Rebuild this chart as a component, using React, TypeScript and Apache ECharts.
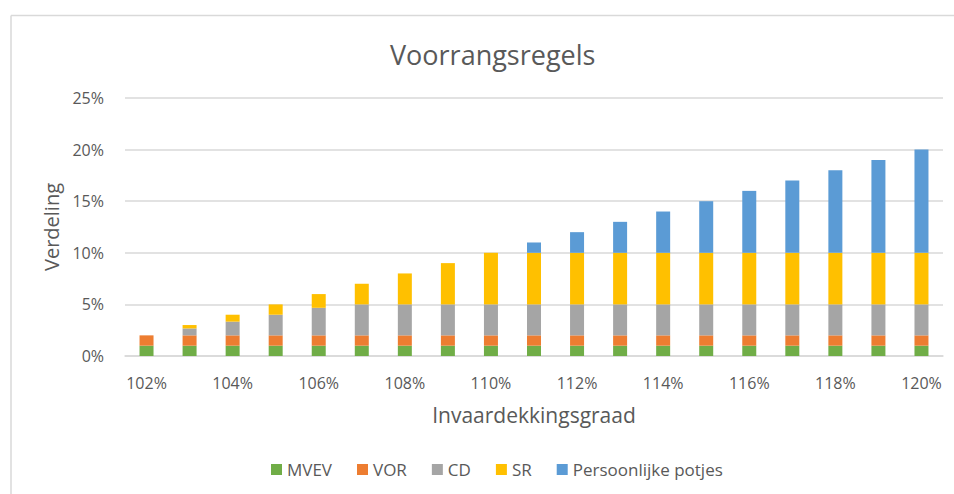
import React, { useEffect, useRef } from "react";
import * as echarts from "echarts";

const categories = ["102%", "103%", "104%", "105%", "106%", "107%", "108%", "109%", "110%", "111%", "112%", "113%", "114%", "115%", "116%", "117%", "118%", "119%", "120%"];
const mvev = [1, 1, 1, 1, 1, 1, 1, 1, 1, 1, 1, 1, 1, 1, 1, 1, 1, 1, 1];
const vor = [1, 1, 1, 1, 1, 1, 1, 1, 1, 1, 1, 1, 1, 1, 1, 1, 1, 1, 1];
const cd = [0, 0.67, 1.33, 2, 2.67, 3, 3, 3, 3, 3, 3, 3, 3, 3, 3, 3, 3, 3, 3];
const sr = [0, 0.33, 0.67, 1, 1.33, 2, 3, 4, 5, 5, 5, 5, 5, 5, 5, 5, 5, 5, 5];
const potjes = [0, 0, 0, 0, 0, 0, 0, 0, 0, 1, 2, 3, 4, 5, 6, 7, 8, 9, 10];
const yTicks = [0, 5, 10, 15, 20, 25];

const seriesDefs = [
  { name: "MVEV", data: mvev, color: "#70ad47" },
  { name: "VOR", data: vor, color: "#ed7d31" },
  { name: "CD", data: cd, color: "#a5a5a5" },
  { name: "SR", data: sr, color: "#ffc000" },
  { name: "Persoonlijke potjes", data: potjes, color: "#5b9bd5" },
];

const FONT = "'Open Sans', 'Noto Sans', sans-serif";
const TXT = "#595959";

export default function App() {
  const ref = useRef<HTMLDivElement>(null);
  useEffect(() => {
    document.body.style.margin = "0";
    const chart = echarts.init(ref.current!, null, { renderer: "svg" });
    chart.setOption({
      animation: false,
      backgroundColor: "#ffffff",
      textStyle: { fontFamily: FONT, color: TXT },
      title: {
        text: "Voorrangsregels",
        left: 385,
        top: 36,
        textStyle: { fontFamily: FONT, fontSize: 27, fontWeight: "normal", color: TXT },
      },
      graphic: [
        { type: "line", shape: { x1: 11, y1: 15.5, x2: 954, y2: 15.5 }, style: { stroke: "#d9d9d9", lineWidth: 1.5 } },
        { type: "line", shape: { x1: 11, y1: 15.5, x2: 11, y2: 494 }, style: { stroke: "#d9d9d9", lineWidth: 1.5 } },
      ],
      legend: {
        bottom: 11,
        left: 266,
        itemWidth: 11,
        itemHeight: 11,
        itemGap: 25,
        icon: "rect",
        textStyle: { fontFamily: FONT, fontSize: 17, color: TXT },
        data: seriesDefs.map((s) => s.name),
      },
      grid: { left: 125, right: 11, top: 98, bottom: 138, containLabel: false },
      xAxis: {
        type: "category",
        data: categories,
        name: "Invaardekkingsgraad",
        nameLocation: "middle",
        nameGap: 48,
        nameTextStyle: { fontFamily: FONT, fontSize: 21, color: TXT },
        axisLine: { lineStyle: { color: "#d9d9d9", width: 1.5 } },
        axisTick: { show: false },
        axisLabel: { interval: 1, margin: 19, fontFamily: FONT, fontSize: 16, color: TXT },
      },
      yAxis: {
        type: "value",
        min: yTicks[0],
        max: yTicks[yTicks.length - 1],
        interval: 5,
        name: "Verdeling",
        nameLocation: "middle",
        nameGap: 62,
        nameTextStyle: { fontFamily: FONT, fontSize: 20, color: TXT },
        axisLine: { show: false },
        axisTick: { show: false },
        splitLine: { lineStyle: { color: "#d9d9d9", width: 1.5 } },
        axisLabel: { margin: 21, fontFamily: FONT, fontSize: 16, color: TXT, formatter: (v: number) => v + "%" },
      },
      series: seriesDefs.map((s) => ({
        name: s.name,
        type: "bar",
        stack: "total",
        barWidth: 14,
        data: s.data,
        itemStyle: { color: s.color },
      })),
    });
    return () => chart.dispose();
  }, []);
  return <div ref={ref} style={{ width: 954, height: 494 }} />;
}
